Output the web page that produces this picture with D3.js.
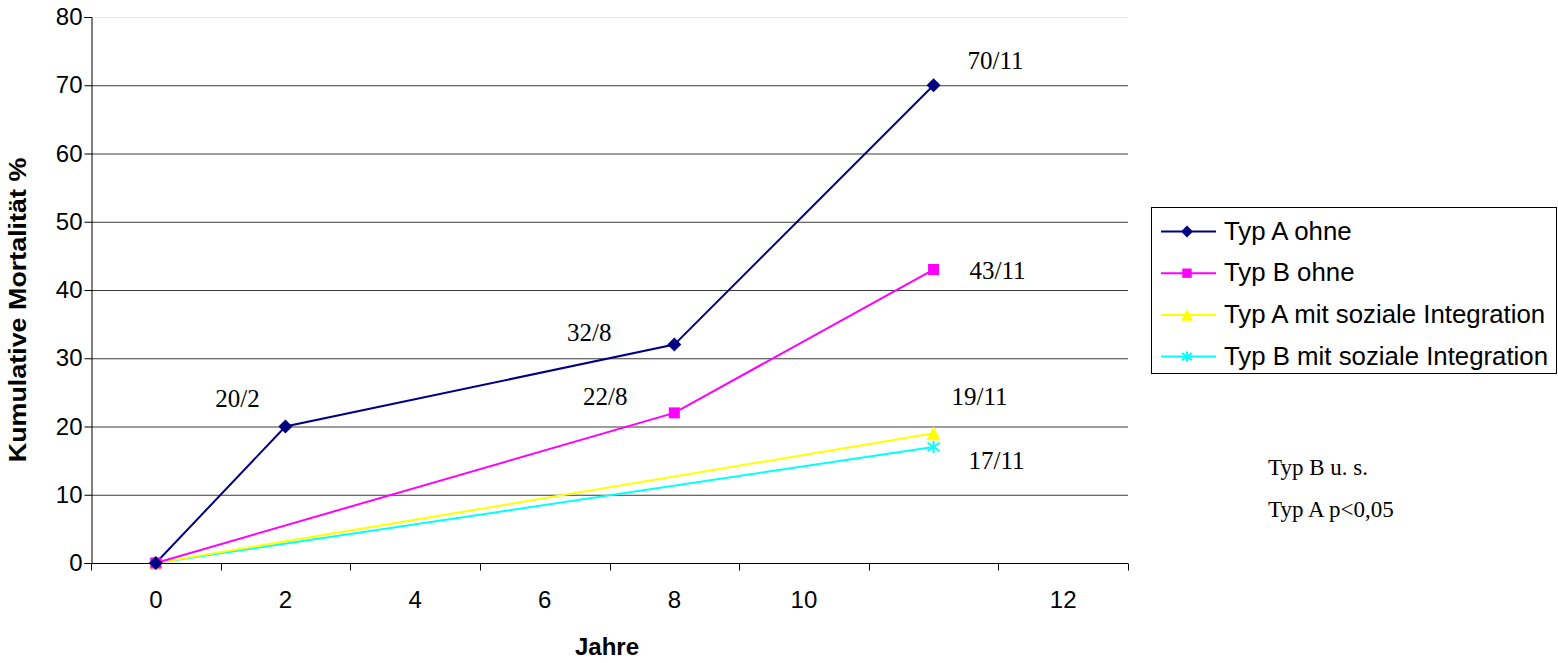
<!DOCTYPE html>
<html>
<head>
<meta charset="utf-8">
<script src="https://cdn.jsdelivr.net/npm/d3@7"></script>
<style>
  html, body { margin: 0; padding: 0; background: #fff; }
  svg { display: block; }
</style>
</head>
<body>
<svg id="chart" width="1558" height="663"></svg>
<script>
// Years of follow-up (category axis); the 11-year category carries no tick label
const categories = ["0", "2", "4", "6", "8", "10", "11", "12"];
const tickLabels = ["0", "2", "4", "6", "8", "10", "", "12"];
const yTicks = [0, 10, 20, 30, 40, 50, 60, 70, 80];

// Cumulative mortality in %, null where no observation exists
const typAOhne = [0, 20, null, null, 32, null, 70, null];
const typBOhne = [0, null, null, null, 22, null, 43, null];
const typAMit  = [0, null, null, null, null, null, 19, null];
const typBMit  = [0, null, null, null, null, null, 17, null];

const seriesNames = ["Typ A ohne", "Typ B ohne", "Typ A mit soziale Integration", "Typ B mit soziale Integration"];
const seriesColors = ["#000080", "#FF00FF", "#FFFF00", "#00FFFF"];
const seriesMarkers = ["diamond", "square", "triangle", "asterisk"];

// Point annotations: label, category, value
const annoLabels = ["20/2", "32/8", "22/8", "70/11", "43/11", "19/11", "17/11"];
const annoCats   = ["2", "8", "8", "11", "11", "11", "11"];
const annoValues = [20, 32, 22, 70, 43, 19, 17];

const statNotes = ["Typ B u. s.", "Typ A p<0,05"];

const series = [typAOhne, typBOhne, typAMit, typBMit].map((vals, i) => ({
  name: seriesNames[i], color: seriesColors[i], marker: seriesMarkers[i],
  points: vals.map((v, j) => ({ cat: categories[j], value: v })).filter(p => p.value !== null)
}));

const svg = d3.select("#chart");
const plot = { left: 91, right: 1128, top: 17, bottom: 563 };

const x = d3.scaleBand().domain(categories).range([plot.left, plot.right]);
const y = d3.scaleLinear().domain([0, 80]).range([plot.bottom, plot.top]);
const cx = c => x(c) + x.bandwidth() / 2;

const sans = "'Liberation Sans', Arial, sans-serif";
const serif = "'Liberation Serif', 'Times New Roman', serif";

// Horizontal gridlines
svg.append("g").selectAll("line").data(yTicks.filter(t => t > 0)).join("line")
  .attr("x1", plot.left).attr("x2", plot.right)
  .attr("y1", d => y(d) + 0.5).attr("y2", d => y(d) + 0.5)
  .attr("stroke", d => d === 80 ? "#e6e6e6" : "#3a3a3a").attr("stroke-width", 1);

// Y axis
const yAxis = svg.append("g").attr("transform", `translate(${plot.left + 0.5},0)`)
  .call(d3.axisLeft(y).tickValues(yTicks).tickSize(7).tickPadding(2));
yAxis.select(".domain").attr("stroke", "#000");
yAxis.selectAll(".tick line").attr("stroke", "#000");
yAxis.selectAll("text").attr("font-family", sans).attr("font-size", 24).attr("fill", "#000");

// X axis with tick marks at category boundaries
const xAxisG = svg.append("g").attr("transform", `translate(0,${plot.bottom + 0.5})`);
xAxisG.append("line").attr("x1", plot.left).attr("x2", plot.right).attr("stroke", "#000");
const boundaries = categories.map(c => x(c)).concat([plot.right]);
xAxisG.selectAll("line.tk").data(boundaries).join("line").attr("class", "tk")
  .attr("x1", d => Math.round(d) + 0.5).attr("x2", d => Math.round(d) + 0.5)
  .attr("y1", 0).attr("y2", 7).attr("stroke", "#000");
xAxisG.selectAll("text").data(categories).join("text")
  .attr("x", d => cx(d)).attr("y", 44)
  .attr("text-anchor", "middle").attr("font-family", sans).attr("font-size", 24)
  .text((d, i) => tickLabels[i]);

// Axis titles
svg.append("text").attr("x", 607).attr("y", 655)
  .attr("text-anchor", "middle").attr("font-family", sans).attr("font-size", 24).attr("font-weight", "bold")
  .text("Jahre");
svg.append("text").attr("transform", `translate(26,310) rotate(-90) scale(1.12,1)`)
  .attr("text-anchor", "middle").attr("font-family", sans).attr("font-size", 24).attr("font-weight", "bold")
  .text("Kumulative Mortalität %");

// Marker drawing
function drawMarker(g, type, color, px, py, scale) {
  const s = scale || 1;
  if (type === "diamond") {
    const r = 7 * s;
    g.append("path").attr("d", `M${px},${py - r}L${px + r},${py}L${px},${py + r}L${px - r},${py}Z`).attr("fill", color);
  } else if (type === "square") {
    const r = 5.5 * s;
    g.append("rect").attr("x", px - r).attr("y", py - r).attr("width", 2 * r).attr("height", 2 * r).attr("fill", color);
  } else if (type === "triangle") {
    const r = 7 * s;
    g.append("path").attr("d", `M${px},${py - r}L${px + r},${py + r}L${px - r},${py + r}Z`).attr("fill", color);
  } else if (type === "asterisk") {
    const r = 6 * s;
    const gg = g.append("g").attr("stroke", color).attr("stroke-width", 2);
    gg.append("line").attr("x1", px).attr("x2", px).attr("y1", py - r).attr("y2", py + r);
    gg.append("line").attr("x1", px - r).attr("x2", px + r).attr("y1", py - r * 0.7).attr("y2", py + r * 0.7);
    gg.append("line").attr("x1", px - r).attr("x2", px + r).attr("y1", py + r * 0.7).attr("y2", py - r * 0.7);
  }
}

// Series lines and markers (drawn back to front so navy stays on top)
const line = d3.line().x(d => cx(d.cat)).y(d => y(d.value));
const seriesG = svg.append("g");
series.slice().reverse().forEach(s => {
  seriesG.append("path").datum(s.points).attr("d", line)
    .attr("fill", "none").attr("stroke", s.color).attr("stroke-width", 2);
});
series.slice().reverse().forEach(s => {
  s.points.forEach(p => drawMarker(seriesG, s.marker, s.color, cx(p.cat), y(p.value)));
});

// Annotation offsets relative to each data point
const annoDx = [-48, -85, -69, 62, 64, 46, 63];
const annoDy = [-20, -4, -8, -16, 9, -28, 22];
annoLabels.forEach((t, i) => {
  svg.append("text")
    .attr("x", cx(annoCats[i]) + annoDx[i]).attr("y", y(annoValues[i]) + annoDy[i])
    .attr("text-anchor", "middle").attr("font-family", serif).attr("font-size", 25).attr("fill", "#000")
    .text(t);
});

// Legend
const legend = svg.append("g");
legend.append("rect").attr("x", 1151.5).attr("y", 207.5).attr("width", 405).attr("height", 166)
  .attr("fill", "#fff").attr("stroke", "#000");
series.forEach((s, i) => {
  const ly = 231.5 + i * 41.7;
  legend.append("line").attr("x1", 1161).attr("x2", 1216).attr("y1", ly).attr("y2", ly)
    .attr("stroke", s.color).attr("stroke-width", 2);
  drawMarker(legend, s.marker, s.color, 1187, ly, 0.85);
  legend.append("text").attr("x", 1224).attr("y", ly + 8)
    .attr("font-family", sans).attr("font-size", 25.8).attr("fill", "#000").text(s.name);
});

// Significance notes
statNotes.forEach((t, i) => {
  svg.append("text").attr("x", 1268).attr("y", 475 + i * 42)
    .attr("font-family", serif).attr("font-size", 23).attr("fill", "#000").text(t);
});
</script>
</body>
</html>
